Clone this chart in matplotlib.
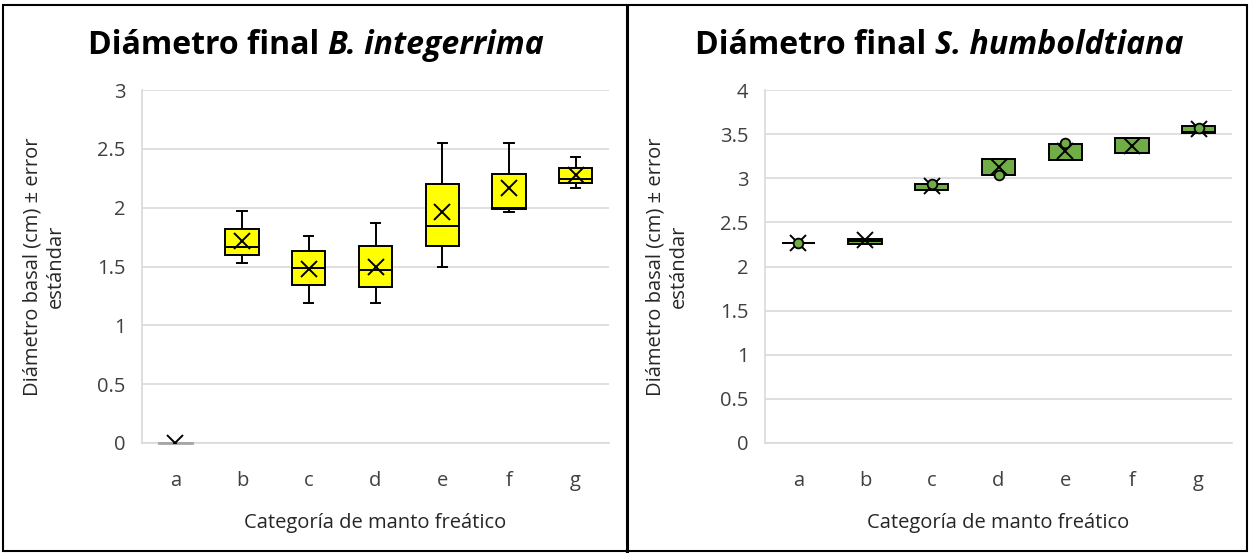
import matplotlib
matplotlib.use("Agg")
import matplotlib.pyplot as plt
from matplotlib.patches import Rectangle
from matplotlib.lines import Line2D

categorias = ['a', 'b', 'c', 'd', 'e', 'f', 'g']

# B. integerrima
bi_whislo = [0.0, 1.53, 1.19, 1.19, 1.50, 1.96, 2.17]
bi_q1 = [0.0, 1.60, 1.34, 1.33, 1.67, 1.99, 2.21]
bi_med = [0.0, 1.665, 1.49, 1.47, 1.84, 2.00, 2.24]
bi_q3 = [0.0, 1.82, 1.63, 1.67, 2.20, 2.29, 2.34]
bi_whishi = [0.0, 1.97, 1.76, 1.87, 2.55, 2.55, 2.43]
bi_media = [0.0, 1.72, 1.48, 1.50, 1.96, 2.17, 2.28]

# S. humboldtiana
sh_q1 = [2.27, 2.26, 2.87, 3.04, 3.21, 3.29, 3.51]
sh_med = [2.27, 2.29, 2.87, 3.04, 3.21, 3.29, 3.52]
sh_q3 = [2.27, 2.31, 2.94, 3.22, 3.39, 3.46, 3.59]
sh_media = [2.27, 2.295, 2.91, 3.13, 3.31, 3.37, 3.56]
sh_puntos = [2.27, None, 2.94, 3.04, 3.40, None, 3.575]

plt.rcParams['font.family'] = ['Open Sans', 'DejaVu Sans']

fig = plt.figure(figsize=(12.49, 5.54), dpi=100)
W, H = 1249, 554
FS = 14.5


def hacer_stats(lo, q1, med, q3, hi):
    return [dict(whislo=a, q1=b, med=c, q3=d, whishi=e, fliers=[])
            for a, b, c, d, e in zip(lo, q1, med, q3, hi)]


def titulo(normal, italica, cx):
    r = fig.canvas.get_renderer()
    t1 = fig.text(0, 1 - 45 / H, normal + ' ', ha='left', va='center',
                  fontsize=23, fontweight='bold')
    t2 = fig.text(0, 1 - 45 / H, italica, ha='left', va='center',
                  fontsize=23, fontweight='bold', style='italic')
    w1 = t1.get_window_extent(r).width
    w2 = t2.get_window_extent(r).width
    x0 = cx - (w1 + w2) / 2
    t1.set_x(x0 / W)
    t2.set_x((x0 + w1) / W)


def panel(x0, ymax, stats, medias, color):
    ax = fig.add_axes([x0 / W, (H - 443) / H, 467 / W, 353 / H])
    pos = list(range(1, 8))
    ax.bxp(stats, positions=pos, widths=0.5, capwidths=0.14, patch_artist=True,
           showfliers=False,
           boxprops=dict(facecolor=color, edgecolor='black', linewidth=1.4),
           medianprops=dict(color='black', linewidth=1.4),
           whiskerprops=dict(color='black', linewidth=1.4),
           capprops=dict(color='black', linewidth=1.4))
    ax.plot(pos, medias, linestyle='none', marker='x', markersize=11,
            markeredgewidth=1.4, color='black', zorder=5)
    ax.set_xlim(0.5, 7.5)
    ax.set_ylim(0, ymax)
    n = int(ymax * 2) + 1
    ax.set_yticks([i * 0.5 for i in range(n)])
    ax.set_yticklabels([('%g' % (i * 0.5)) for i in range(n)])
    ax.set_xticks(pos)
    ax.set_xticklabels(categorias)
    ax.tick_params(axis='both', length=0, labelsize=FS, colors='#404040')
    ax.tick_params(axis='y', pad=12)
    ax.tick_params(axis='x', pad=20)
    ax.grid(axis='y', color='#D9D9D9', linewidth=1.2)
    ax.set_axisbelow(True)
    for s in ['top', 'right']:
        ax.spines[s].set_visible(False)
    for s in ['left', 'bottom']:
        ax.spines[s].set_color('#D9D9D9')
        ax.spines[s].set_linewidth(1.2)
    ax.set_xlabel('Categoría de manto freático', fontsize=FS, color='#262626', labelpad=16)
    ax.set_ylabel('Diámetro basal (cm) ± error\nestándar', fontsize=FS,
                  color='#262626', labelpad=22, linespacing=1.25)
    return ax


ax1 = panel(142, 3, hacer_stats(bi_whislo, bi_q1, bi_med, bi_q3, bi_whishi),
            bi_media, '#FFFF00')
ax2 = panel(765, 4, hacer_stats(sh_q1, sh_q1, sh_med, sh_q3, sh_q3),
            sh_media, '#70AD47')
titulo('Diámetro final', 'B. integerrima', 316)
titulo('Diámetro final', 'S. humboldtiana', 939)

# categoría a de B. integerrima: caja plana en gris
ax1.plot([0.75, 1.25], [bi_q1[0], bi_q3[0]], color='#A6A6A6', linewidth=2,
         zorder=4, clip_on=False)

px = [i + 1 for i, v in enumerate(sh_puntos) if v is not None]
py = [v for v in sh_puntos if v is not None]
ax2.plot(px, py, linestyle='none', marker='o', markersize=7, markerfacecolor='#70AD47',
         markeredgecolor='black', markeredgewidth=1.3, zorder=6)

# marco exterior y divisor
fig.add_artist(Rectangle((2.5 / W, 3 / H), 1244 / W, 546 / H, transform=fig.transFigure,
                         fill=False, edgecolor='black', linewidth=1.5))
fig.add_artist(Line2D([627 / W, 627 / W], [3 / H, 549 / H], transform=fig.transFigure,
                      color='black', linewidth=2.2))

fig.savefig('out.png', dpi=100)
